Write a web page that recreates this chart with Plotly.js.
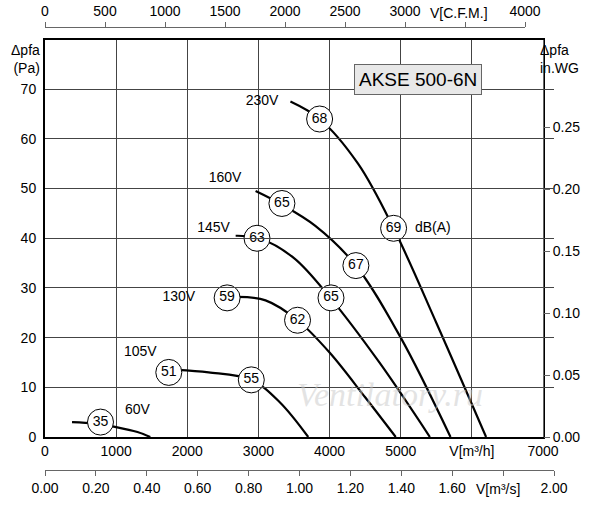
<!DOCTYPE html>
<html><head><meta charset="utf-8">
<script src="https://cdn.plot.ly/plotly-3.0.1.min.js"></script>
<style>body{margin:0}#c{width:600px;height:505px}</style></head>
<body><div id="c"></div>
<script>
const v60x=[380,700,1000,1300,1480], v60y=[3,2.7,2,1,0];
const v105x=[1850,2300,2900,3300,3700], v105y=[13.5,13,11.5,7,0];
const v130x=[2700,3100,3550,4000,4500,4930], v130y=[28.2,27.5,23.5,17,8,0];
const v145x=[2680,3010,3500,4010,4700,5410], v145y=[40.5,40,36,28,15,0];
const v160x=[2960,3300,3800,4370,5000,5700], v160y=[49.5,47,42.5,34.5,20,0];
const v230x=[3450,3860,4400,4900,5500,6200], v230y=[67.5,64,55,42,23,0];
const dbX=[780,1740,2900,2560,3550,2980,4020,3330,4370,3860,4900];
const dbY=[3,13,11.5,28,23.5,40,28,47,34.5,64,42];
const dbT=['35','51','55','59','62','63','65','65','67','68','69'];
const voltLabels=['60V','105V','130V','145V','160V','230V'];
const voltX=[1300,1340,1880,2370,2530,3050];
const voltY=[5.3,17,28,42,52,67.5];
const cfmTicks=[0,500,1000,1500,2000,2500,3000,3500,4000];
const cfmText=['0','500','1000','1500','2000','2500','3000','','4000'];
const m3sTicks=[0,0.2,0.4,0.6,0.8,1.0,1.2,1.4,1.6,1.8,2.0];
const m3sText=['0.00','0.20','0.40','0.60','0.80','1.00','1.20','1.40','1.60','','2.00'];

const data=[];
data.push({x:[0],y:[0],xaxis:'x2',yaxis:'y',mode:'markers',marker:{opacity:0},hoverinfo:'skip'});
data.push({x:[0],y:[0],xaxis:'x3',yaxis:'y',mode:'markers',marker:{opacity:0},hoverinfo:'skip'});
data.push({x:[0],y:[0],xaxis:'x',yaxis:'y2',mode:'markers',marker:{opacity:0},hoverinfo:'skip'});
const curves=[[v60x,v60y],[v105x,v105y],[v130x,v130y],[v145x,v145y],[v160x,v160y],[v230x,v230y]];
curves.forEach(c=>data.push({x:c[0],y:c[1],mode:'lines',line:{color:'#000',width:2.2,shape:'spline'},hoverinfo:'skip'}));
data.push({x:dbX,y:dbY,text:dbT,mode:'markers+text',textposition:'middle center',
 marker:{size:26,color:'#fff',line:{color:'#000',width:1}},textfont:{family:'Liberation Sans',size:14,color:'#000'}});
data.push({x:voltX,y:voltY,text:voltLabels,mode:'text',textfont:{family:'Liberation Sans',size:14,color:'#000'}});

const f={family:'Liberation Sans',size:14,color:'#000'};
const W=515;
const layout={width:600,height:505,showlegend:false,margin:{l:45,r:40,t:27,b:35},
 paper_bgcolor:'#fff',plot_bgcolor:'rgba(0,0,0,0)',font:f,
 xaxis:{domain:[0,498/W],range:[0,7000],tickvals:[0,1000,2000,3000,4000,5000,6000,7000],tickangle:0,
  ticktext:['0','1000','2000','3000','4000','5000','V[m³/h]','7000'],showgrid:true,gridcolor:'#444',gridwidth:1,
  showline:true,linecolor:'#000',linewidth:2,mirror:true,ticks:'',zeroline:false,tickfont:f,anchor:'y'},
 xaxis2:{domain:[0,480/W],range:[0,4000],side:'top',anchor:'free',position:1,tickangle:0,
  tickvals:cfmTicks,ticktext:cfmText,
  showline:true,linecolor:'#666',ticks:'outside',ticklen:5,tickcolor:'#666',showgrid:false,zeroline:false,tickfont:f},
 xaxis3:{domain:[0,509/W],range:[0,2.0],anchor:'free',position:0,side:'bottom',tickangle:0,
  tickvals:m3sTicks,ticktext:m3sText,
  showline:true,linecolor:'#666',ticks:'outside',ticklen:5,tickcolor:'#666',showgrid:false,zeroline:false,tickfont:f},
 yaxis:{domain:[33/443,1-13/443],range:[0,79.9],tickvals:[0,10,20,30,40,50,60,70],showgrid:true,gridcolor:'#444',
  ticks:'',zeroline:false,tickfont:f,showline:true,linecolor:'#000',linewidth:2,mirror:true,ticklabelstandoff:4},
 yaxis2:{overlaying:'y',side:'right',anchor:'free',position:498/W,range:[0,79.9/249.09],
  tickvals:[0,0.05,0.1,0.15,0.2,0.25],ticktext:['0.00','0.05','0.10','0.15','0.20','0.25'],
  ticks:'outside',ticklen:6,tickcolor:'#666',showline:true,linecolor:'#666',showgrid:false,zeroline:false,tickfont:f},
 annotations:[
  {xref:'paper',yref:'paper',x:-0.005,y:1-13/443,xanchor:'right',yanchor:'top',
   text:'Δpfa<br>(Pa)',showarrow:false,align:'right',font:f},
  {xref:'paper',yref:'paper',x:1.04,y:1-13/443,xanchor:'right',yanchor:'top',text:'Δpfa<br>in.WG',showarrow:false,align:'left',font:f},
  {xref:'paper',yref:'paper',x:(428-45)/W,y:1,yshift:14,xanchor:'left',yanchor:'middle',text:'V[C.F.M.]',showarrow:false,font:f},
  {xref:'paper',yref:'paper',x:(474-45)/W,y:0,yshift:-19,xanchor:'left',yanchor:'middle',text:'V[m³/s]',showarrow:false,font:f},
  {xref:'x',yref:'y',x:6140,y:72,text:'AKSE 500-6N',showarrow:false,bgcolor:'#e8e8e8',bordercolor:'#666',borderwidth:1,
   borderpad:4,font:{family:'Liberation Sans',size:19,color:'#000'},xanchor:'right',yanchor:'middle'},
  {xref:'x',yref:'y',x:5170,y:42.3,text:'dB(A)',showarrow:false,xanchor:'left',font:f},
  {xref:'x',yref:'y',x:4850,y:8.5,text:'<i>Ventilatory.ru</i>',showarrow:false,
   font:{family:'Liberation Serif',size:34,color:'rgba(200,200,200,0.5)'}}
 ]};
Plotly.newPlot('c',data,layout,{staticPlot:true});
</script></body></html>
